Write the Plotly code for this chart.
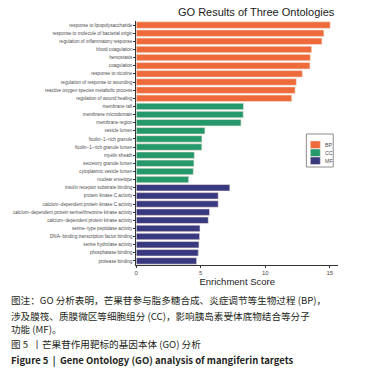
import plotly.graph_objects as go

W, H = 376, 373

bp_terms = ["response to lipopolysaccharide", "response to molecule of bacterial origin",
            "regulation of inflammatory response", "blood coagulation", "hemostasis",
            "coagulation", "response to nicotine", "regulation of response to wounding",
            "reactive oxygen species metabolic process", "regulation of wound healing"]
bp_scores = [15.03, 14.54, 14.39, 13.59, 13.49, 13.46, 12.87, 12.41, 12.31, 12.05]

cc_terms = ["membrane raft", "membrane microdomain", "membrane region", "vesicle lumen",
            "ficolin−1−rich granule", "ficolin−1−rich granule lumen", "myelin sheath",
            "secretory granule lumen", "cytoplasmic vesicle lumen", "nuclear envelope"]
cc_scores = [8.31, 8.29, 8.12, 5.32, 5.09, 5.08, 4.50, 4.47, 4.42, 4.06]

mf_terms = ["insulin receptor substrate binding", "protein kinase C activity",
            "calcium−dependent protein kinase C activity",
            "calcium−dependent protein serine/threonine kinase activity",
            "calcium−dependent protein kinase activity", "serine−type peptidase activity",
            "DNA−binding transcription factor binding", "serine hydrolase activity",
            "phosphatase binding", "protease binding"]
mf_scores = [7.25, 6.35, 6.35, 5.68, 5.58, 4.94, 4.91, 4.86, 4.81, 4.68]

ontologies = ["BP", "CC", "MF"]
colors = {"BP": "#EF6A3A", "CC": "#25996B", "MF": "#38397E"}
x_ticks = [0, 5, 10, 15]

title = "GO Results of Three Ontologies"
x_title = "Enrichment Score"
caption_lines = [
    "图注：GO 分析表明，芒果苷参与脂多糖合成、炎症调节等生物过程 (BP)，",
    "涉及膜筏、质膜微区等细胞组分 (CC)，影响胰岛素受体底物结合等分子",
    "功能 (MF)。",
    "图 5  丨芒果苷作用靶标的基因本体 (GO) 分析",
    "<b>Figure 5  |  Gene Ontology (GO) analysis of mangiferin targets</b>",
]

all_terms = bp_terms + cc_terms + mf_terms

fig = go.Figure()
for ont, terms, scores in zip(ontologies, [bp_terms, cc_terms, mf_terms],
                              [bp_scores, cc_scores, mf_scores]):
    fig.add_trace(go.Bar(
        x=scores, y=terms, orientation="h", name=ont,
        marker=dict(color=colors[ont], line=dict(color="#F3E6DE", width=0.6)),
        width=0.8, showlegend=False,
    ))


def px(x):
    return x / W


def py(y):
    return 1 - y / H


fig.update_layout(
    width=W, height=H,
    margin=dict(l=0, r=0, t=0, b=0),
    paper_bgcolor="white", plot_bgcolor="white",
    font=dict(family="Liberation Sans, Arial, sans-serif", color="#4D4D4D"),
    showlegend=False,
    xaxis=dict(domain=[px(135), px(338)], range=[0, 15.65], tickvals=x_ticks,
               showgrid=False, zeroline=False, showline=True, linecolor="#333333",
               linewidth=1, ticks="outside", ticklen=2, tickcolor="#333333",
               tickfont=dict(size=6, color="#4D4D4D"),
               title=dict(text=x_title, font=dict(size=9.5, color="#1A1A1A"), standoff=2)),
    yaxis=dict(domain=[py(265), py(21)], type="category", categoryorder="array",
               categoryarray=all_terms, range=[len(all_terms) - 0.5, -0.5],
               showgrid=False, zeroline=False, showline=True, linecolor="#333333",
               linewidth=1, ticks="outside", ticklen=2, tickcolor="#333333",
               tickfont=dict(size=4.6, color="#4D4D4D")),
)

# legend box (drawn manually to match the compact ggplot legend)
fig.add_shape(type="rect", xref="paper", yref="paper",
              x0=px(306), x1=px(333), y0=py(167), y1=py(134),
              line=dict(color="#8C8C8C", width=1), fillcolor="white")
for i, ont in enumerate(ontologies):
    top = 141 + i * 8
    fig.add_shape(type="rect", xref="paper", yref="paper",
                  x0=px(310), x1=px(320), y0=py(top + 7.5), y1=py(top),
                  line=dict(color="#F3E6DE", width=0.5), fillcolor=colors[ont])
    fig.add_annotation(text=ont, x=px(323), y=py(top + 3.8), xref="paper", yref="paper",
                       showarrow=False, xanchor="left", yanchor="middle",
                       font=dict(size=5.3, color="#4D4D4D"))

fig.add_annotation(text=title, x=px(256), y=py(12), xref="paper", yref="paper",
                   showarrow=False, font=dict(size=11, color="#1A1A1A"),
                   xanchor="center", yanchor="middle")

cap_y = [300, 316, 329, 344, 360]
for i, (t, yy) in enumerate(zip(caption_lines, cap_y)):
    fig.add_annotation(text=t, x=px(7), y=py(yy), xref="paper", yref="paper",
                       showarrow=False, xanchor="left", yanchor="middle",
                       font=dict(size=9.6 if i < 4 else 9.5,
                                 family="Noto Sans CJK SC, Noto Sans, sans-serif",
                                 color="#231F20"))

fig.write_html("out.html", config={"displayModeBar": False},
               post_script="document.body.style.margin='0';")
